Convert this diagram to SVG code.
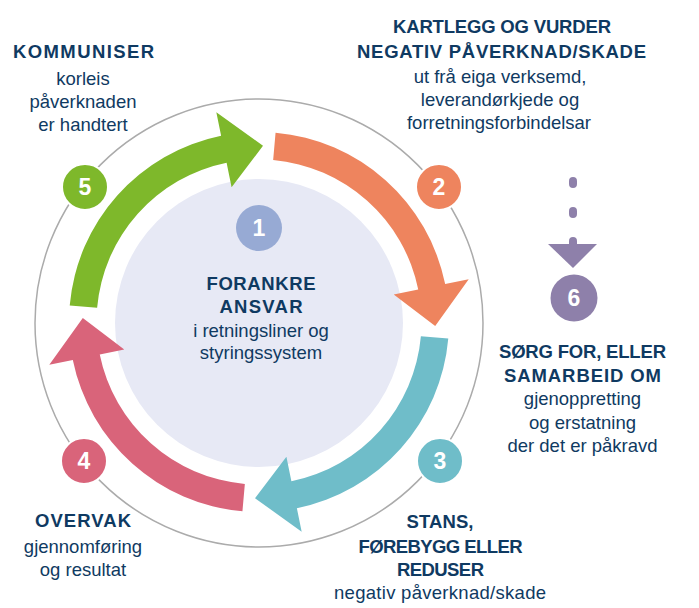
<svg xmlns="http://www.w3.org/2000/svg" xmlns:xlink="http://www.w3.org/1999/xlink" width="699" height="608" viewBox="0 0 699 608">
  <style>
    text { font-family: "Liberation Sans", Arial, sans-serif; text-anchor: middle; fill: #0F3A62; }
    .h { font-weight: bold; font-size: 18.5px; }
    .t { font-size: 18.5px; }
    .n { font-weight: bold; font-size: 23px; fill: #FFFFFF; }
    .badge { stroke: #FFFFFF; stroke-width: 2; }
  </style>
  <defs>
    <path id="arrow" d="M189.28,16.56 A190,190 0 0 1 37.88,186.18 L42.67,209.70 L-4.0,176.2 L27.41,134.74 L32.40,159.24 A162.5,162.5 0 0 0 161.88,14.16 Z"/>
  </defs>
  <rect width="699" height="608" fill="#FFFFFF"/>

  <g id="ring">
    <circle cx="259" cy="323" r="224" fill="none" stroke="#ABABAB" stroke-width="1.5"/>
  </g>

  <g id="step1">
    <circle cx="259" cy="323" r="144" fill="#E7E9F5"/>
    <circle cx="259" cy="228" r="23" fill="#97AAD4"/>
    <text class="n" x="259" y="236">1</text>
    <text class="h" x="261" y="290" textLength="109" lengthAdjust="spacing">FORANKRE</text>
    <text class="h" x="261" y="313" textLength="83" lengthAdjust="spacing">ANSVAR</text>
    <text class="t" x="261" y="337">i retningsliner og</text>
    <text class="t" x="261" y="359">styringssystem</text>
  </g>

  <g id="connectors">
    <use xlink:href="#arrow" transform="translate(259,322) rotate(270)" fill="#EE845E"/>
    <use xlink:href="#arrow" transform="translate(259,322)" fill="#6FBDC9"/>
    <use xlink:href="#arrow" transform="translate(259,322) rotate(90)" fill="#D9647A"/>
    <use xlink:href="#arrow" transform="translate(259,322) rotate(180)" fill="#7EB82B"/>
    <line x1="573" y1="181" x2="573" y2="244" stroke="#8E80AA" stroke-width="8" stroke-linecap="round" stroke-dasharray="3 27"/>
    <polygon points="548,244 597,244 573,268" fill="#8E80AA"/>
  </g>

  <g id="step2">
    <circle class="badge" cx="439" cy="187" r="23" fill="#EE845E"/>
    <text class="n" x="439" y="195">2</text>
    <text class="h" x="502" y="33" textLength="218" lengthAdjust="spacing">KARTLEGG OG VURDER</text>
    <text class="h" x="501.5" y="58" textLength="289" lengthAdjust="spacing">NEGATIV PÅVERKNAD/SKADE</text>
    <text class="t" x="500" y="82.5">ut frå eiga verksemd,</text>
    <text class="t" x="500" y="105.5">leverandørkjede og</text>
    <text class="t" x="499" y="128.5">forretningsforbindelsar</text>
  </g>

  <g id="step3">
    <circle class="badge" cx="440" cy="461" r="23" fill="#6FBDC9"/>
    <text class="n" x="440" y="469">3</text>
    <text class="h" x="440" y="528" textLength="67" lengthAdjust="spacing">STANS,</text>
    <text class="h" x="440.5" y="553" textLength="164" lengthAdjust="spacing">FØREBYGG ELLER</text>
    <text class="h" x="440.5" y="576" textLength="87" lengthAdjust="spacing">REDUSER</text>
    <text class="t" x="440" y="598.5" textLength="212" lengthAdjust="spacing">negativ påverknad/skade</text>
  </g>

  <g id="step4">
    <circle class="badge" cx="84" cy="461" r="23" fill="#D9647A"/>
    <text class="n" x="84" y="469">4</text>
    <text class="h" x="83" y="527" textLength="96" lengthAdjust="spacing">OVERVAK</text>
    <text class="t" x="83" y="553">gjennomføring</text>
    <text class="t" x="83" y="576">og resultat</text>
  </g>

  <g id="step5">
    <circle class="badge" cx="85" cy="187" r="23" fill="#7EB82B"/>
    <text class="n" x="85" y="195">5</text>
    <text class="h" x="83.5" y="58" textLength="141" lengthAdjust="spacing">KOMMUNISER</text>
    <text class="t" x="83" y="85">korleis</text>
    <text class="t" x="83" y="108">påverknaden</text>
    <text class="t" x="83" y="131">er handtert</text>
  </g>

  <g id="step6">
    <circle cx="574" cy="298" r="23.5" fill="#8E80AA"/>
    <text class="n" x="574" y="306">6</text>
    <text class="h" x="582.5" y="358" textLength="167" lengthAdjust="spacing">SØRG FOR, ELLER</text>
    <text class="h" x="582.5" y="382" textLength="157" lengthAdjust="spacing">SAMARBEID OM</text>
    <text class="t" x="582.5" y="405">gjenoppretting</text>
    <text class="t" x="582.5" y="428.5">og erstatning</text>
    <text class="t" x="582.5" y="451.5">der det er påkravd</text>
  </g>
</svg>
